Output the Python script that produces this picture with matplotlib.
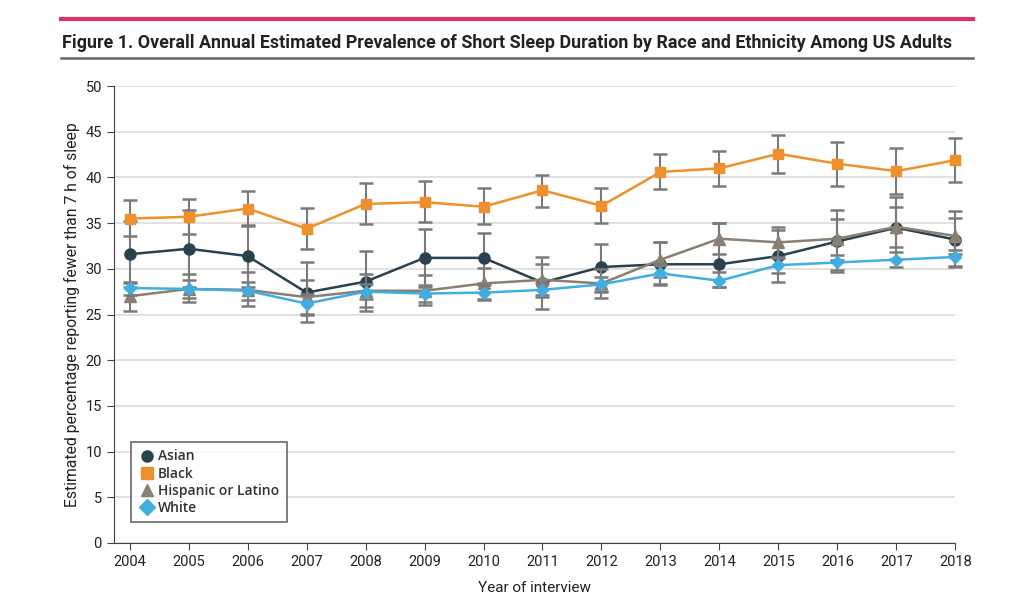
import matplotlib
matplotlib.use("Agg")
import matplotlib.pyplot as plt
from matplotlib.lines import Line2D
import numpy as np

plt.rcParams['font.family'] = ['Roboto', 'DejaVu Sans']

years = [2004, 2005, 2006, 2007, 2008, 2009, 2010, 2011, 2012, 2013, 2014, 2015, 2016, 2017, 2018]

asian = [31.6, 32.2, 31.4, 27.4, 28.6, 31.2, 31.2, 28.5, 30.2, 30.5, 30.5, 31.4, 33.0, 34.5, 33.2]
asian_lo = [28.0, 28.0, 28.0, 24.2, 25.4, 28.0, 28.4, 25.6, 27.6, 28.3, 28.0, 28.6, 29.6, 31.1, 30.2]
asian_hi = [35.2, 36.4, 34.8, 30.7, 32.0, 34.4, 33.9, 31.3, 32.7, 32.9, 35.0, 34.2, 36.4, 37.9, 36.3]

black = [35.5, 35.7, 36.6, 34.4, 37.1, 37.3, 36.8, 38.6, 36.9, 40.6, 41.0, 42.6, 41.5, 40.7, 41.9]
black_lo = [33.6, 33.8, 34.7, 32.2, 34.9, 35.1, 34.9, 36.8, 35.0, 38.7, 39.1, 40.5, 39.1, 38.2, 39.5]
black_hi = [37.5, 37.6, 38.5, 36.7, 39.4, 39.6, 38.8, 40.3, 38.9, 42.6, 42.9, 44.6, 43.9, 43.2, 44.3]

hisp = [27.0, 27.8, 27.7, 26.9, 27.6, 27.6, 28.4, 28.8, 28.4, 31.0, 33.3, 32.9, 33.3, 34.6, 33.6]
hisp_lo = [25.4, 26.4, 25.9, 25.0, 25.8, 26.0, 26.7, 27.1, 26.8, 29.1, 31.6, 31.2, 31.0, 32.4, 31.6]
hisp_hi = [28.5, 29.4, 29.6, 28.8, 29.4, 29.3, 30.1, 30.5, 30.0, 32.9, 35.0, 34.6, 35.5, 36.8, 35.6]

white = [27.9, 27.8, 27.6, 26.2, 27.5, 27.3, 27.4, 27.7, 28.3, 29.5, 28.7, 30.4, 30.7, 31.0, 31.3]
white_lo = [27.1, 26.8, 26.6, 25.1, 26.7, 26.4, 26.6, 26.9, 27.5, 28.2, 28.0, 29.5, 29.9, 30.2, 30.3]
white_hi = [28.6, 28.8, 28.6, 27.3, 28.3, 28.2, 28.2, 28.5, 29.1, 30.5, 29.6, 31.3, 31.5, 31.8, 32.1]

series = [
    ("Asian", asian, asian_lo, asian_hi, "#28434f", "o", 8),
    ("Hispanic or Latino", hisp, hisp_lo, hisp_hi, "#8a7f70", "^", 8),
    ("Black", black, black_lo, black_hi, "#f0902a", "s", 7.5),
    ("White", white, white_lo, white_hi, "#41aee2", "D", 6.5),
]

fig = plt.figure(figsize=(10.24, 5.94), dpi=100)
ax = fig.add_axes([0.111, 0.086, 0.822, 0.769])

for i, (name, vals, lo, hi, col, mk, ms) in enumerate(series):
    vals = np.array(vals)
    err = [vals - np.array(lo), np.array(hi) - vals]
    line, caps, bars = ax.errorbar(years, vals, yerr=err, color=col, ecolor="#7a7a7a",
                                   elinewidth=1.5, capsize=5, capthick=1.8, marker=mk,
                                   markersize=ms, linewidth=1.8, zorder=3 + i, clip_on=False)
    for c in caps:
        c.set_color(col)
        c.set_clip_on(False)
    for b in bars:
        b.set_clip_on(False)

ax.set_xlim(2003.73, 2018.0)
ax.set_ylim(0, 50)
ax.set_yticks(range(0, 51, 5))
ax.set_xticks(years)
ax.yaxis.grid(True, color="#dcdcdc", linewidth=1.2)
ax.set_axisbelow(True)
for s in ["top", "right"]:
    ax.spines[s].set_visible(False)
ax.spines["left"].set_color("#444444")
ax.spines["bottom"].set_color("#444444")
ax.tick_params(axis="both", colors="#444444", labelcolor="#222222", labelsize=10.5, length=5)
ax.set_xlabel("Year of interview", fontsize=11, color="#222222", labelpad=9)
ax.set_ylabel("Estimated percentage reporting fewer than 7 h of sleep", fontsize=11.3,
              color="#222222", labelpad=4)

handles = [Line2D([], [], linestyle="none", marker=s[5], color=s[4], markersize=8)
           for s in [series[0], series[2], series[1], series[3]]]
labels = ["Asian", "Black", "Hispanic or Latino", "White"]
leg = ax.legend(handles, labels, loc="lower left", bbox_to_anchor=(0.012, 0.03),
                frameon=True, fancybox=False, edgecolor="#444444",
                prop={"family": ["Open Sans", "DejaVu Sans"], "weight": "semibold", "size": 10},
                handletextpad=0.2, labelspacing=0.22, borderpad=0.55, handlelength=1.2)
leg.get_frame().set_linewidth(1.2)
for t in leg.get_texts():
    t.set_color("#333333")

# header rules and title
fig.add_artist(Line2D([0.06, 0.95], [0.968, 0.968], color="#d8366a", linewidth=3))
fig.add_artist(Line2D([0.06, 0.95], [0.902, 0.902], color="#666666", linewidth=1.8))
fig.text(0.061, 0.928, "Figure 1. Overall Annual Estimated Prevalence of Short Sleep Duration by Race and Ethnicity Among US Adults",
         fontsize=12.9, fontweight="bold", color="#222222", va="center", ha="left")

fig.savefig("out.png", dpi=100)
